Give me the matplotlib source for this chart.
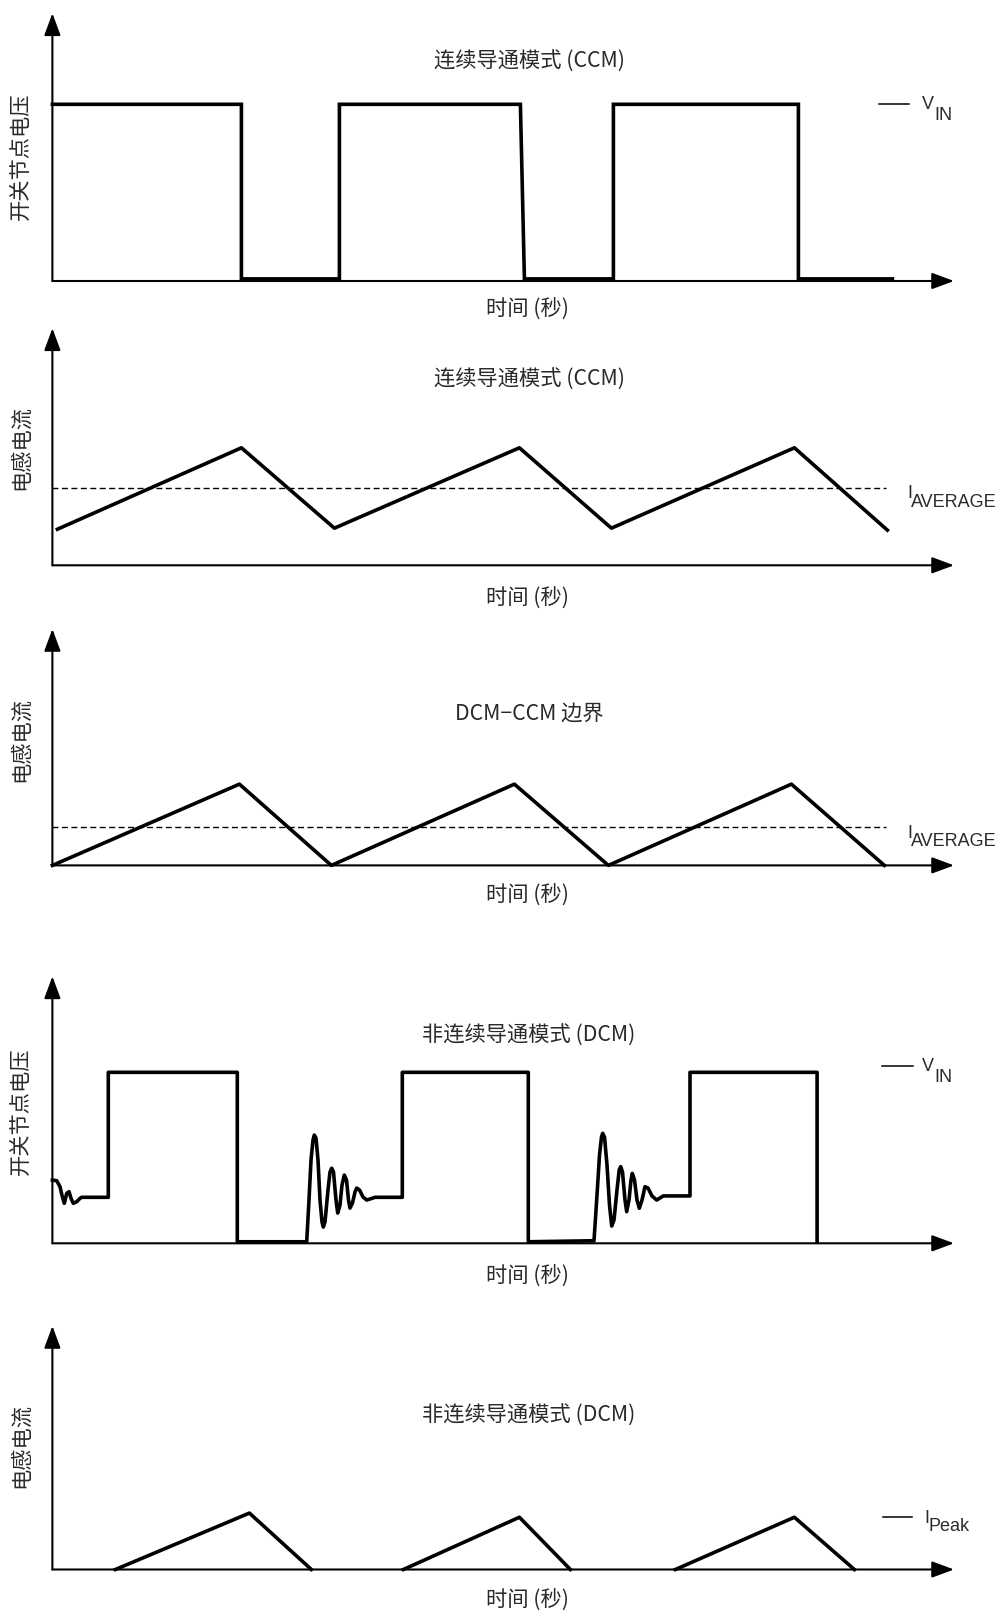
import numpy as np
import matplotlib as mpl
mpl.use('Agg')
import matplotlib.pyplot as plt

plt.rcParams['font.family'] = ['Noto Sans CJK SC', 'DejaVu Sans']

# ---- data (time in arbitrary units, amplitude normalised to VIN / I level) ----
# CCM switch node voltage
ccm_v_t = [0, 1.89, 1.89, 2.87, 2.87, 4.68, 4.72, 5.61, 5.61, 7.46, 7.46, 8.40]
ccm_v_y = [1, 1, 0.012, 0.012, 1, 1, 0.012, 0.012, 1, 1, 0.012, 0.012]

# CCM inductor current
ccm_i_t = [0.05, 1.89, 2.82, 4.67, 5.59, 7.42, 8.35]
ccm_i_y = [0.307, 1.0, 0.316, 1.0, 0.316, 1.0, 0.299]
ccm_i_avg = 0.658

# DCM-CCM boundary inductor current
bnd_i_t = [0, 1.87, 2.79, 4.62, 5.56, 7.39, 8.32]
bnd_i_y = [0, 1.0, 0, 1.0, 0, 1.0, 0]
bnd_i_avg = 0.468

# DCM switch node voltage (with ringing)
dcm_v_t = [0.0, 0.043, 0.076, 0.099, 0.119, 0.143, 0.166, 0.186, 0.209, 0.243, 0.276, 0.293,
           0.559, 0.559, 1.849, 1.849, 2.543,
           2.566, 2.586, 2.606, 2.619, 2.636, 2.656, 2.676, 2.696, 2.709, 2.726, 2.756, 2.776,
           2.793, 2.811, 2.836, 2.853, 2.876, 2.896, 2.919, 2.941, 2.961, 2.976, 3.001, 3.026,
           3.043, 3.071, 3.106, 3.143, 3.176, 3.226,
           3.499, 3.499, 4.759, 4.759, 5.416,
           5.446, 5.471, 5.491, 5.503, 5.521, 5.546, 5.571, 5.593, 5.616, 5.646, 5.668, 5.683,
           5.701, 5.726, 5.743, 5.766, 5.786, 5.799, 5.821, 5.846, 5.869, 5.896, 5.926, 5.956,
           5.996, 6.043, 6.076, 6.109,
           6.376, 6.376, 7.647, 7.647]
dcm_v_y = [0.370, 0.366, 0.331, 0.273, 0.234, 0.292, 0.302, 0.263, 0.234, 0.243, 0.263, 0.269,
           0.269, 1.0, 1.0, 0.009, 0.009,
           0.253, 0.487, 0.604, 0.633, 0.615, 0.487, 0.253, 0.125, 0.095, 0.125, 0.312, 0.417,
           0.439, 0.417, 0.253, 0.177, 0.224, 0.341, 0.399, 0.370, 0.253, 0.206, 0.236, 0.300,
           0.323, 0.312, 0.271, 0.253, 0.259, 0.269,
           0.269, 1.0, 1.0, 0.009, 0.015,
           0.282, 0.516, 0.622, 0.643, 0.622, 0.458, 0.224, 0.101, 0.136, 0.312, 0.429, 0.448,
           0.417, 0.253, 0.185, 0.253, 0.370, 0.409, 0.370, 0.253, 0.205, 0.253, 0.331, 0.323,
           0.277, 0.253, 0.265, 0.277,
           0.277, 1.0, 1.0, 0.009]

# DCM inductor current
dcm_i_t = [0.63, 1.97, 2.59, None, 3.51, 4.67, 5.18, None, 6.23, 7.42, 8.02]
dcm_i_y = [0, 1.08, 0, None, 0, 1.0, 0, None, 0, 1.0, 0]

W, H = 999, 1611
X0, X1 = 52.4, 954.0
fig = plt.figure(figsize=(W / 100, H / 100), dpi=100)
fig.patch.set_facecolor('white')

TXT = '#2a2a2a'
SIG_LW = 2.6


def fpos(x, y):
    return x / W, 1 - y / H


def panel(y_axis, y_top, ytop_val):
    ax = fig.add_axes([X0 / W, 1 - y_axis / H, (X1 - X0) / W, (y_axis - y_top) / H])
    ax.set_xlim(0, (X1 - X0) / 100)
    ax.set_ylim(0, ytop_val)
    ax.axis('off')
    ap = dict(arrowstyle='-|>,head_length=1.35,head_width=0.5', lw=1.5, color='black',
              shrinkA=0, shrinkB=0, mutation_scale=10)
    ax.annotate('', xy=(1, 0), xytext=(0, 0), xycoords='axes fraction', arrowprops=ap)
    ax.annotate('', xy=(0, 1), xytext=(0, 0), xycoords='axes fraction', arrowprops=ap)
    return ax


def label(x, y, s, **kw):
    fig.text(*fpos(x, y), s, color=TXT, fontsize=15.3, weight='light',
             ha='center', va='center', **kw)


def sub_label(x, y, main, sub, dy):
    # main letter + same-size subscript shifted down (baseline coords in px)
    fig.text(*fpos(x, y), main, color=TXT, fontsize=13, family='Liberation Sans',
             ha='left', va='baseline')
    fig.text(*fpos(x + (12.5 if main == 'V' else 4), y + dy), sub, color=TXT, fontsize=13,
             family='Liberation Sans', ha='left', va='baseline')


def arr(v):
    return np.array([np.nan if a is None else a for a in v], dtype=float)


# panel 1: CCM switch node
ax1 = panel(281, 13.3, 1.515)
ax1.plot(ccm_v_t, ccm_v_y, color='black', lw=SIG_LW, clip_on=False, solid_joinstyle='miter')
label(529, 61.5, '连续导通模式 (CCM)')
label(528, 308.5, '时间 (秒)')
label(20.5, 156, '开关节点电压', rotation=90)
fig.add_artist(plt.Line2D([878.5 / W, 909 / W], [1 - 103.8 / H] * 2, color='black', lw=1.1))
sub_label(922, 109.3, 'V', 'IN', 10.7)

# panel 2: CCM inductor current
ax2 = panel(565.3, 328.3, 2.017)
ax2.plot(ccm_i_t, ccm_i_y, color='black', lw=SIG_LW, clip_on=False)
ax2.plot([0, 8.34], [ccm_i_avg] * 2, color='black', lw=1.0, ls=(0, (4.3, 2.5)))
label(529, 380, '连续导通模式 (CCM)')
label(528, 597.5, '时间 (秒)')
label(20.5, 447, '电感电流', rotation=90)
sub_label(907, 498.3, 'I', 'AVERAGE', 8.4)

# panel 3: boundary
ax3 = panel(865.4, 629, 2.91)
ax3.plot(bnd_i_t, bnd_i_y, color='black', lw=SIG_LW, clip_on=False)
ax3.plot([0, 8.34], [bnd_i_avg] * 2, color='black', lw=1.0, ls=(0, (4.3, 2.5)))
label(529, 714, 'DCM−CCM 边界')
label(528, 894.5, '时间 (秒)')
label(20.5, 740, '电感电流', rotation=90)
sub_label(907, 837.5, 'I', 'AVERAGE', 8.4)

# panel 4: DCM switch node
ax4 = panel(1243.3, 976.4, 1.561)
ax4.plot(dcm_v_t, dcm_v_y, color='black', lw=SIG_LW, clip_on=False, solid_joinstyle='round')
label(529, 1036, '非连续导通模式 (DCM)')
label(528, 1276, '时间 (秒)')
label(20.5, 1111, '开关节点电压', rotation=90)
fig.add_artist(plt.Line2D([882 / W, 912.7 / W], [1 - 1065.8 / H] * 2, color='black', lw=1.1))
sub_label(922, 1071.3, 'V', 'IN', 10.7)

# panel 5: DCM inductor current
ax5 = panel(1569.5, 1326, 4.66)
ax5.plot(arr(dcm_i_t), arr(dcm_i_y), color='black', lw=SIG_LW, clip_on=False)
label(529, 1416, '非连续导通模式 (DCM)')
label(528, 1599.5, '时间 (秒)')
label(20.5, 1445, '电感电流', rotation=90)
fig.add_artist(plt.Line2D([883 / W, 912 / W], [1 - 1517.3 / H] * 2, color='black', lw=1.1))
sub_label(924, 1523.3, 'I', 'Peak', 7.5)

fig.savefig('out.png', dpi=100, facecolor='white')
